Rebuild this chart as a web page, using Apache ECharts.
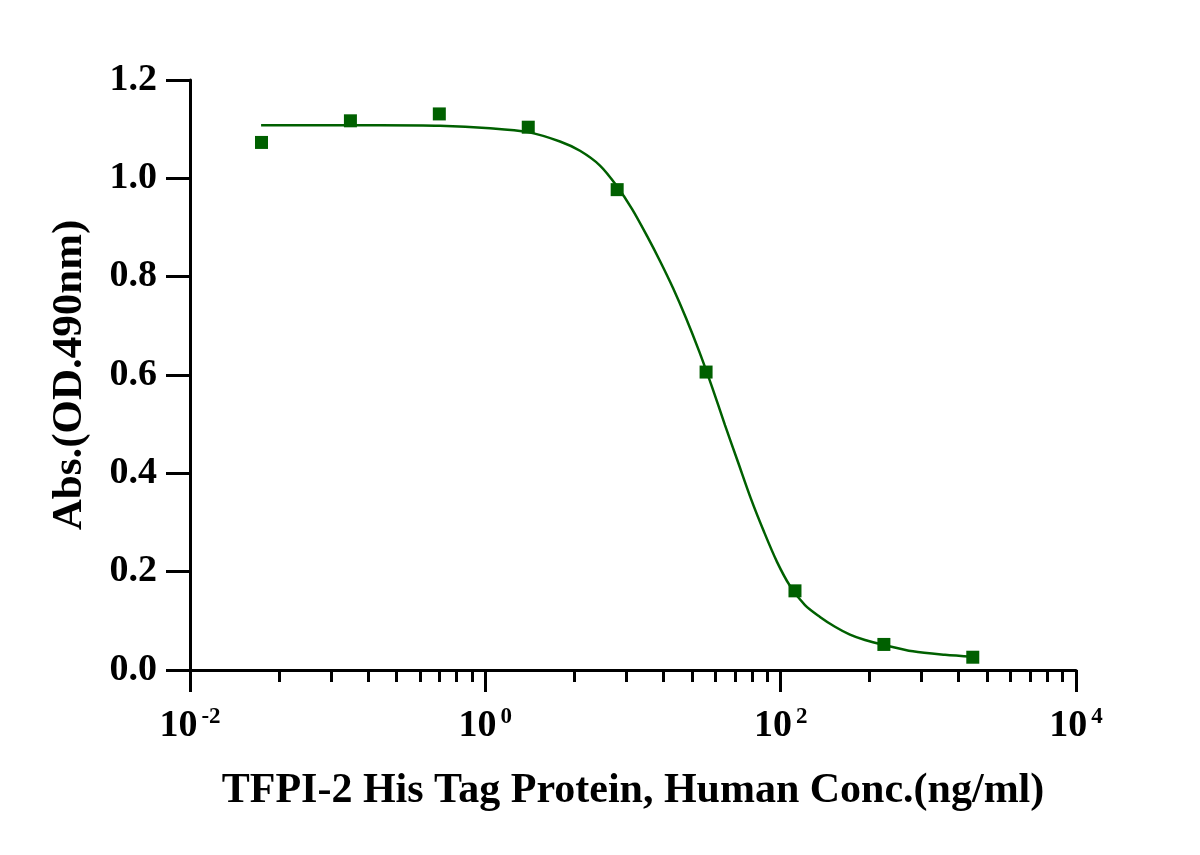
<!DOCTYPE html>
<html>
<head>
<meta charset="utf-8">
<title>TFPI-2 His Tag Protein</title>
<script src="https://cdn.jsdelivr.net/npm/echarts@6/dist/echarts.min.js"></script>
<style>
  * { margin: 0; padding: 0; }
  body { background: #fff; }
  #main { width: 1200px; height: 855px; }
</style>
</head>
<body>
<div id="main"></div>
<script>
// measured points (4-fold dilution series)
var conc = [0.0305, 0.122, 0.488, 1.953, 7.813, 31.25, 125, 500, 2000];
var absorb = [1.073, 1.117, 1.131, 1.104, 0.977, 0.606, 0.161, 0.052, 0.026];

// fitted curve
var fitX = [0.0303, 0.0759, 0.1935, 0.4932, 1.075, 1.945, 3.203, 4.375, 5.977, 7.79,
            9.84, 12.44, 15.23, 18.66, 22.85, 27.99, 34.27, 41.97, 51.40, 62.95,
            77.13, 94.43, 115.7, 146.1, 184.6, 233.3, 294.7, 372.4, 500.8, 787.0,
            1296, 2006];
var fitY = [1.108, 1.108, 1.108, 1.107, 1.102, 1.094, 1.075, 1.056, 1.026, 0.984,
            0.938, 0.883, 0.832, 0.777, 0.716, 0.649, 0.576, 0.498, 0.423, 0.348,
            0.281, 0.220, 0.171, 0.132, 0.108, 0.088, 0.072, 0.061, 0.051, 0.038,
            0.031, 0.027];

// axis ticks
var majorTicks = [0.01, 1, 100, 10000];
var minorTicks = [];
[0.01, 1, 100].forEach(function (base) {
  for (var k = 2; k <= 9; k++) minorTicks.push(base * k * k);
});

var green = '#006000';
var font = "'Liberation Serif', 'Times New Roman', serif";

var myChart = echarts.init(document.getElementById('main'));

function pair(xs, ys) {
  var out = [];
  for (var i = 0; i < xs.length; i++) out.push([xs[i], ys[i]]);
  return out;
}

var option = {
  animation: false,
  backgroundColor: '#fff',
  grid: { left: 190, right: 124, top: 80, bottom: 185 },
  xAxis: [
    {
      type: 'log',
      min: 0.01,
      max: 10000,
      logBase: 10,
      name: 'TFPI-2 His Tag Protein, Human Conc.(ng/ml)',
      nameLocation: 'middle',
      nameGap: 100,
      nameTextStyle: { fontFamily: font, fontWeight: 'bold', fontSize: 42, color: '#000' },
      axisLine: { show: true, lineStyle: { color: '#000', width: 3 } },
      axisTick: { show: true, inside: false, length: 22, customValues: majorTicks,
                  lineStyle: { color: '#000', width: 3 } },
      axisLabel: {
        customValues: majorTicks,
        margin: 36,
        formatter: function (v) {
          var e = Math.round(Math.log(v) / Math.LN10);
          return '{b|10}{s|' + e + '}';
        },
        rich: {
          b: { fontFamily: font, fontWeight: 'bold', fontSize: 38, color: '#000', lineHeight: 40 },
          s: { fontFamily: font, fontWeight: 'bold', fontSize: 23, color: '#000', lineHeight: 40,
               verticalAlign: 'top', padding: [0, 0, 0, 4] }
        }
      },
      splitLine: { show: false }
    },
    {
      type: 'log',
      min: 0.01,
      max: 10000,
      logBase: 10,
      position: 'bottom',
      axisLine: { show: false },
      axisTick: { show: true, inside: false, length: 12, customValues: minorTicks,
                  lineStyle: { color: '#000', width: 3 } },
      axisLabel: { show: false },
      splitLine: { show: false }
    }
  ],
  yAxis: {
    type: 'value',
    min: 0,
    max: 1.2,
    interval: 0.2,
    name: 'Abs.(OD.490nm)',
    nameLocation: 'middle',
    nameGap: 99,
    nameRotate: 90,
    nameTextStyle: { fontFamily: font, fontWeight: 'bold', fontSize: 43, color: '#000' },
    axisLine: { show: true, lineStyle: { color: '#000', width: 3 } },
    axisTick: { show: true, inside: false, length: 24, lineStyle: { color: '#000', width: 3 } },
    axisLabel: {
      margin: 33,
      fontFamily: font,
      fontWeight: 'bold',
      fontSize: 38,
      color: '#000',
      formatter: function (v) { return v.toFixed(1); }
    },
    splitLine: { show: false }
  },
  series: [
    {
      name: 'fit',
      type: 'line',
      xAxisIndex: 0,
      data: pair(fitX, fitY),
      smooth: 0.3,
      showSymbol: false,
      symbol: 'none',
      lineStyle: { color: green, width: 2.5 },
      z: 2
    },
    {
      name: 'data',
      type: 'scatter',
      xAxisIndex: 0,
      data: pair(conc, absorb),
      symbol: 'rect',
      symbolSize: 13,
      itemStyle: { color: green, opacity: 1 },
      z: 3
    }
  ]
};

myChart.setOption(option);
</script>
</body>
</html>
